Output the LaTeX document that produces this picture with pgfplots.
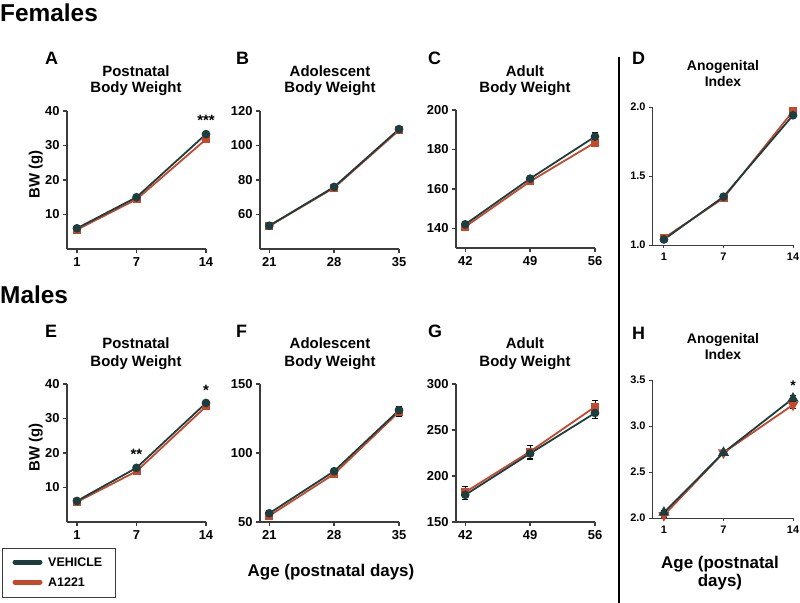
\documentclass[border=0pt]{standalone}
\usepackage{pgfplots}
\pgfplotsset{compat=1.18}
\usepackage{fontspec}
\setmainfont{Liberation Sans}

\definecolor{vehc}{RGB}{28,62,62}
\definecolor{aclr}{RGB}{197,72,45}
\definecolor{axc}{RGB}{60,60,60}

\newcommand{\fs}[1]{\fontsize{#1}{#1}\selectfont}

\pgfplotsset{
  panel/.style={
    scale only axis, width=139bp, height=138bp,
    anchor=south west,
    axis x line*=bottom, axis y line*=left,
    axis line style={line width=1.3bp, axc},
    tick style={line width=1.3bp, axc},
    tick align=outside, major tick length=4bp,
    minor tick num=0,
    tick label style={font=\bfseries\fs{13}},
    /pgf/number format/assume math mode=true,
    xticklabel style={yshift=-1bp},
    clip=false,
  },
  small panel/.style={
    panel, width=141bp,
    axis line style={line width=1bp, axc},
    tick style={line width=1bp, axc},
    major tick length=3bp,
    tick label style={font=\bfseries\fs{11}},
  },
  bwlabel/.style={
    ylabel={BW (g)},
    ylabel style={font=\bfseries\fs{15}, at={(axis description cs:-0.225,0.54)}, anchor=center},
  },
  errs/.style={
    error bars/y dir=both, error bars/y explicit,
    error bars/error bar style={black, line width=0.8bp},
    error bars/error mark options={black, line width=0.8bp, mark size=3bp, rotate=90}},
  veh/.style={errs, color=vehc, line width=1.8bp, mark=*, mark size=3.4bp,
    mark options={solid, fill=vehc}},
  acl/.style={errs, color=aclr, line width=1.8bp, mark=square*, mark size=3.1bp,
    mark options={solid, fill=aclr}},
}

\begin{document}
\begin{tikzpicture}[every node/.style={font=\bfseries}]
\path[use as bounding box] (0,0) rectangle (800bp,-603bp);

% headings
\node[anchor=base west, inner sep=0, font=\bfseries\fs{24.5}] at (0bp,-21bp) {Females};
\node[anchor=base west, inner sep=0, font=\bfseries\fs{24.5}] at (0bp,-303bp) {Males};
\draw[line width=1.5bp, black] (619bp,-57bp) -- (619bp,-603bp);

% panel letters
\foreach \l/\x/\y in {A/45/64, B/236/64, C/428/64, D/632/64, E/45/337, F/236/337, G/428/337, H/632/339}
  \node[anchor=base west, inner sep=0, font=\bfseries\fs{18}] at (\x bp,-\y bp) {\l};

% panel titles
\foreach \t/\x/\y in {Postnatal/136/76, Adolescent/330/76, Adult/525/76,
                      Postnatal/136/348, Adolescent/330/348, Adult/525/348}
  \node[anchor=base, inner sep=0, font=\bfseries\fs{15}] at (\x bp,-\y bp) {\t};
\foreach \x/\y in {136/92, 330/92, 525/92, 136/366, 330/366, 525/366}
  \node[anchor=base, inner sep=0, font=\bfseries\fs{15}] at (\x bp,-\y bp) {Body Weight};
\node[anchor=base, inner sep=0, font=\bfseries\fs{14}] at (723bp,-70bp) {Anogenital};
\node[anchor=base, inner sep=0, font=\bfseries\fs{14}] at (723bp,-86bp) {Index};
\node[anchor=base, inner sep=0, font=\bfseries\fs{14}] at (723bp,-343bp) {Anogenital};
\node[anchor=base, inner sep=0, font=\bfseries\fs{14}] at (723bp,-359bp) {Index};

% x axis titles
\node[anchor=base, inner sep=0, font=\bfseries\fs{17}] at (331bp,-576bp) {Age (postnatal days)};
\node[anchor=base, inner sep=0, font=\bfseries\fs{17}] at (720bp,-568bp) {Age (postnatal};
\node[anchor=base, inner sep=0, font=\bfseries\fs{17}] at (720bp,-586bp) {days)};

% legend
\draw[axc, line width=0.8bp] (2bp,-548bp) rectangle (115bp,-597bp);
\draw[vehc, line width=5bp, line cap=round] (15bp,-562bp) -- (40bp,-562bp);
\draw[aclr, line width=5bp, line cap=round] (15bp,-582bp) -- (40bp,-582bp);
\node[anchor=base west, inner sep=0, font=\bfseries\fs{12.5}] at (48bp,-566.5bp) {VEHICLE};
\node[anchor=base west, inner sep=0, font=\bfseries\fs{12.5}] at (48bp,-586.5bp) {A1221};

% ---------------- A
\begin{axis}[panel, bwlabel, at={(67bp,-249bp)},
    xmin=0, xmax=14, ymin=0, ymax=40,
    xtick={1,7,14}, ytick={10,20,30,40}]
\addplot[acl] table[x=x, y=y, y error=e] {
x y e
1 5.6 0.3
7 14.4 0.4
14 31.8 0.5
};
\addplot[veh] table[x=x, y=y, y error=e] {
x y e
1 6.0 0.3
7 15.0 0.4
14 33.3 0.6
};
\node[font=\bfseries\fs{15}, inner sep=0] at (axis cs:14,37.3) {***};
\end{axis}

% ---------------- B
\begin{axis}[panel, at={(260bp,-249bp)},
    xmin=20, xmax=35, ymin=40, ymax=120,
    xtick={21,28,35}, ytick={60,80,100,120}]
\addplot[acl] table[x=x, y=y, y error=e] {
x y e
21 53.3 0.6
28 75.5 0.8
35 108.8 1.0
};
\addplot[veh] table[x=x, y=y, y error=e] {
x y e
21 53.5 0.6
28 76.0 0.8
35 109.5 1.0
};
\end{axis}

% ---------------- C
\begin{axis}[panel, at={(456bp,-248bp)},
    xmin=41, xmax=56, ymin=130, ymax=200,
    xtick={42,49,56}, ytick={140,160,180,200}]
\addplot[acl] table[x=x, y=y, y error=e] {
x y e
42 140.8 1.0
49 163.8 1.0
56 183.5 2.2
};
\addplot[veh] table[x=x, y=y, y error=e] {
x y e
42 142.0 1.0
49 165.2 1.0
56 186.5 2.2
};
\end{axis}

% ---------------- D
\begin{axis}[small panel, at={(652bp,-245bp)},
    xmin=-0.2, xmax=14, ymin=1.0, ymax=2.0,
    xtick={1,7,14}, ytick={1.0,1.5,2.0},
    yticklabel style={/pgf/number format/.cd, fixed, fixed zerofill, precision=1}]
\addplot[acl] table[x=x, y=y, y error=e] {
x y e
1 1.05 0.01
7 1.34 0.01
14 1.97 0.01
};
\addplot[veh] table[x=x, y=y, y error=e] {
x y e
1 1.04 0.01
7 1.35 0.01
14 1.94 0.01
};
\end{axis}

% ---------------- E
\begin{axis}[panel, bwlabel, at={(67bp,-522bp)},
    xmin=0, xmax=14, ymin=0, ymax=40,
    xtick={1,7,14}, ytick={10,20,30,40}]
\addplot[acl] table[x=x, y=y, y error=e] {
x y e
1 5.8 0.3
7 14.7 0.4
14 33.5 0.5
};
\addplot[veh] table[x=x, y=y, y error=e] {
x y e
1 6.1 0.3
7 15.7 0.4
14 34.5 0.5
};
\node[font=\bfseries\fs{15}, inner sep=0] at (axis cs:7,19.7) {**};
\node[font=\bfseries\fs{15}, inner sep=0] at (axis cs:14,38.3) {*};
\end{axis}

% ---------------- F
\begin{axis}[panel, at={(260bp,-522bp)},
    xmin=20, xmax=35, ymin=50, ymax=150,
    xtick={21,28,35}, ytick={50,100,150}]
\addplot[acl] table[x=x, y=y, y error=e] {
x y e
21 54.5 1.0
28 84.8 1.2
35 129.8 3.0
};
\addplot[veh] table[x=x, y=y, y error=e] {
x y e
21 56.3 1.0
28 86.8 1.2
35 131.0 3.0
};
\end{axis}

% ---------------- G
\begin{axis}[panel, at={(456bp,-522bp)},
    xmin=41, xmax=56, ymin=150, ymax=300,
    xtick={42,49,56}, ytick={150,200,250,300}]
\addplot[acl] table[x=x, y=y, y error=e] {
x y e
42 182.5 6.0
49 226.6 7.0
56 275.2 7.0
};
\addplot[veh] table[x=x, y=y, y error=e] {
x y e
42 179.5 5.0
49 224.5 6.0
56 268.5 6.0
};
\end{axis}

% ---------------- H
\begin{axis}[small panel, at={(652bp,-518bp)},
    xmin=-0.2, xmax=14, ymin=2.0, ymax=3.5,
    xtick={1,7,14}, ytick={2.0,2.5,3.0,3.5},
    yticklabel style={/pgf/number format/.cd, fixed, fixed zerofill, precision=1}]
\addplot[acl, mark=triangle*, mark size=4.6bp, mark options={solid, fill=aclr, rotate=180}] table[x=x, y=y, y error=e] {
x y e
1 2.03 0.02
7 2.71 0.02
14 3.23 0.04
};
\addplot[veh, mark=triangle*, mark size=4.6bp] table[x=x, y=y, y error=e] {
x y e
1 2.06 0.02
7 2.71 0.02
14 3.30 0.03
};
\node[font=\bfseries\fs{14}, inner sep=0] at (axis cs:14,3.44) {*};
\end{axis}
\end{tikzpicture}
\end{document}
